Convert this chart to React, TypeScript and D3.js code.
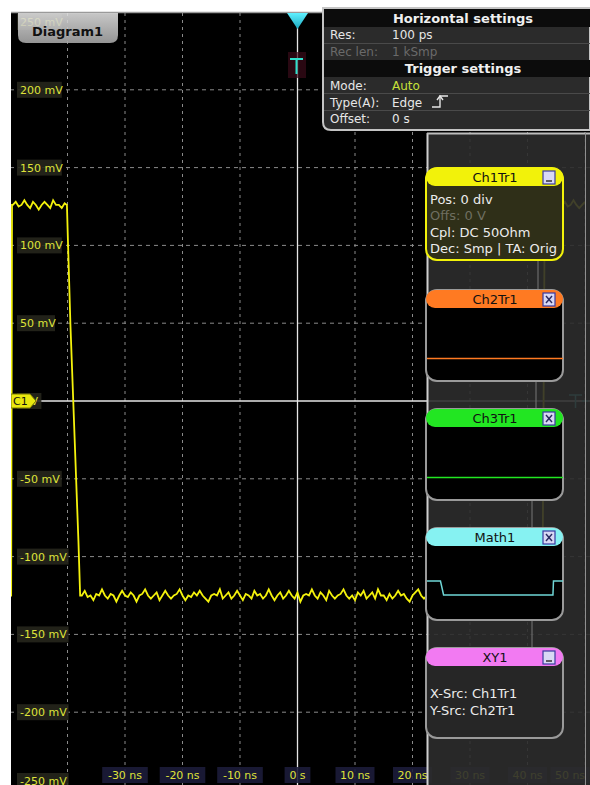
import React from "react";
import * as d3 from "d3";

const W = 590;
const H = 785;

// ---- axis ticks ----
const timeTicksNs = [-30, -20, -10, 0, 10, 20, 30, 40, 50];
const timeTickLabels = ["-30 ns", "-20 ns", "-10 ns", "0 s", "10 ns", "20 ns", "30 ns", "40 ns", "50 ns"];
const timeGridNs = [-40, -30, -20, -10, 0, 10, 20, 30, 40, 50];
const voltTicksMv = [250, 200, 150, 100, 50, 0, -50, -100, -150, -200, -250];
const voltTickLabels = ["250 mV", "200 mV", "150 mV", "100 mV", "50 mV", "0 V", "-50 mV", "-100 mV", "-150 mV", "-200 mV", "-250 mV"];

// ---- Ch1 trace (ns, mV) ----
const ch1StartPoints: [number, number][] = [[-50, -125], [-49.8, -125], [-49.65, 126]];
const ch1HighLeftStartNs = -49.5;
const ch1SampleStepNs = 0.5;
const ch1HighLeftMv = [126, 128, 125, 126, 129, 126, 124, 128, 126, 123, 126, 128, 126, 124, 129, 126, 126, 124, 127];
const ch1FallPoints: [number, number][] = [[-40.1, 126], [-39.9, 100], [-39.5, 50], [-39.0, 0], [-38.1, -90], [-37.8, -125]];
const ch1LowStartNs = -37.5;
const ch1LowMv = [
  -125, -122, -126, -125, -128, -124, -125, -121, -125, -127,
  -124, -125, -129, -125, -122, -125, -126, -123, -125, -129,
  -125, -124, -121, -125, -127, -125, -123, -128, -125, -122,
  -125, -127, -125, -124, -121, -125, -128, -125, -126, -123,
  -125, -122, -125, -127, -129, -125, -124, -125, -121, -127,
  -125, -123, -127, -125, -122, -125, -128, -124, -125, -127,
  -122, -125, -124, -127, -125, -121, -125, -128, -125, -123,
  -127, -125, -122, -125, -127, -123, -129, -125, -124, -125,
  -121, -125, -127, -123, -125, -128, -122, -125, -127, -125,
  -124, -121, -125, -127, -125, -128, -123, -125, -122, -127,
  -125, -123, -127, -121, -125, -125, -128, -124, -127, -125,
  -122, -125, -124, -127, -129, -125, -123, -121, -125, -127,
  -125, -122, -127, -125, -124, -128, -125, -127, -121, -125,
  -123, -127, -125, -122, -125, -128, -124, -125, -127, -121,
  -125, -123, -127, -125, -128, -122, -125, -124, -127, -125,
  -121, -125, -127, -123, -125, -128, -125, -122, -125, -127,
  -124,
];
const ch1RisePoints: [number, number][] = [[42.6, -125], [43.0, 126]];
const ch1HighRightStartNs = 43.5;
const ch1HighRightMv = [126, 124, 128, 126, 123, 126, 128, 125, 126, 129, 126, 124, 126, 128];

// preview levels (mV) for the sidebar thumbnails
const ch2PreviewMv = [-60];
const ch3PreviewMv = [-60];

// ---- panel texts ----
const horizRows = [
  { label: "Res:", value: "100 ps", dim: false },
  { label: "Rec len:", value: "1 kSmp", dim: true },
];
const trigRows = [
  { label: "Mode:", value: "Auto", color: "#c8e03a" },
  { label: "Type(A):", value: "Edge", color: "#e8e8e8" },
  { label: "Offset:", value: "0  s", color: "#e8e8e8" },
];
const ch1Info = [
  { t: "Pos: 0 div", dim: false },
  { t: "Offs: 0  V", dim: true },
  { t: "Cpl: DC 50Ohm", dim: false },
  { t: "Dec: Smp | TA: Orig", dim: false },
];
const xyInfo = ["X-Src: Ch1Tr1", "Y-Src: Ch2Tr1"];

const FONT = "'DejaVu Sans', Verdana, sans-serif";

function buildCh1(): [number, number][] {
  const pts: [number, number][] = [];
  ch1StartPoints.forEach((p) => pts.push(p));
  ch1HighLeftMv.forEach((v, i) => pts.push([ch1HighLeftStartNs + i * ch1SampleStepNs, v]));
  ch1FallPoints.forEach((p) => pts.push(p));
  ch1LowMv.forEach((v, i) => pts.push([ch1LowStartNs + i * ch1SampleStepNs, v]));
  ch1RisePoints.forEach((p) => pts.push(p));
  ch1HighRightMv.forEach((v, i) => pts.push([ch1HighRightStartNs + i * ch1SampleStepNs, v]));
  return pts;
}

function Icon({ x, y, kind }: { x: number; y: number; kind: "min" | "x" }) {
  return (
    <g>
      <rect x={x} y={y} width={12} height={13} fill="#d8d8f4" stroke="#3a3aa0" strokeWidth={1.2} />
      {kind === "min" ? (
        <line x1={x + 3} x2={x + 9} y1={y + 10} y2={y + 10} stroke="#333" strokeWidth={1.5} />
      ) : (
        <g stroke="#2a2a60" strokeWidth={1.4}>
          <line x1={x + 3} y1={y + 3} x2={x + 9} y2={y + 10} />
          <line x1={x + 9} y1={y + 3} x2={x + 3} y2={y + 10} />
        </g>
      )}
    </g>
  );
}

function ChBox({ y, h, color, title, icon, bodyFill, border }: any) {
  const x = 426;
  const w = 137;
  return (
    <g>
      <rect x={x} y={y} width={w} height={h} rx={11} fill={bodyFill} stroke={border} strokeWidth={2} />
      <rect x={x} y={y} width={w} height={18} rx={9} fill={color} />
      <text x={x + 69} y={y + 14} textAnchor="middle" fontFamily={FONT} fontSize={13} fill="#111">{title}</text>
      <Icon x={543} y={y + 3} kind={icon} />
    </g>
  );
}

export default function App() {
  const x = d3.scaleLinear().domain([-50, 50]).range([10, 585]);
  const y = d3.scaleLinear().domain([250, -250]).range([12, 790]);
  const data = buildCh1();
  const line = d3
    .line<[number, number]>()
    .x((d) => x(d[0]))
    .y((d) => y(d[1]));

  // Math1 thumbnail uses Ch1 shape
  const mx = d3.scaleLinear().domain([-50, 50]).range([427, 563]);
  const my = d3.scaleLinear().domain([126, -126]).range([581, 595]);
  const mline = d3
    .line<[number, number]>()
    .x((d) => mx(d[0]))
    .y((d) => my(d[1]));
  const mathData = [[-50, 126], ...ch1FallPoints.filter((_, i) => i === 0 || i === ch1FallPoints.length - 1), ...ch1RisePoints, [50, 126]] as [number, number][];

  const ch2y = d3.scaleLinear().domain([150, -150]).range([306, 381]);
  const ch3y = d3.scaleLinear().domain([150, -150]).range([425, 500]);

  const y0 = y(0);
  const x0 = x(0);

  return (
    <svg width={W} height={H} style={{ position: "absolute", left: 0, top: 0, display: "block" }}>
      <defs>
        <clipPath id="plot">
          <rect x={11} y={13} width={580} height={780} />
        </clipPath>
        <linearGradient id="tab" x1="0" y1="0" x2="0" y2="1">
          <stop offset="0" stopColor="#e2e2e2" />
          <stop offset="1" stopColor="#a9a9a9" />
        </linearGradient>
        <linearGradient id="trig" x1="0" y1="0" x2="0" y2="1">
          <stop offset="0" stopColor="#5ff0ff" />
          <stop offset="1" stopColor="#1aa8c0" />
        </linearGradient>
      </defs>
      <rect x={0} y={0} width={W} height={H} fill="#ffffff" />
      <rect x={11} y={12} width={W - 11} height={H - 12} fill="#000" />
      <line x1={11} x2={330} y1={12.5} y2={12.5} stroke="#9a9a9a" strokeWidth={1.5} />

      {/* grid */}
      <g clipPath="url(#plot)">
        {timeGridNs.map((t) => (
          <line key={"v" + t} x1={x(t)} x2={x(t)} y1={13} y2={H} stroke="#8a8a8a" strokeWidth={1} strokeDasharray="3,4" />
        ))}
        {voltTicksMv.filter((v) => v !== 250 && v !== 0).map((v) => (
          <line key={"h" + v} x1={10} x2={W} y1={y(v)} y2={y(v)} stroke="#8a8a8a" strokeWidth={1} strokeDasharray="4,4" />
        ))}
        {/* zero axes */}
        <line x1={x0} x2={x0} y1={13} y2={H} stroke="#e6e6e6" strokeWidth={1.3} />
        <line x1={11} x2={W} y1={y0} y2={y0} stroke="#e6e6e6" strokeWidth={1.3} />

        {/* y labels */}
        {voltTicksMv.map((v, i) => {
          const cy = Math.max(22, Math.min(781, y(v)));
          const lab = voltTickLabels[i];
          const w = lab.length * 6.8 + 4;
          return (
            <g key={"yl" + v}>
              <rect x={17} y={cy - 8} width={w} height={16} fill="#26261c" opacity={0.9} />
              <text x={20} y={cy + 4} fontFamily={FONT} fontSize={11} fill="#dfe23a">{lab}</text>
            </g>
          );
        })}

        {/* x labels */}
        {timeTicksNs.map((t, i) => {
          const lab = timeTickLabels[i];
          const w = lab.length * 6.6 + 6;
          const cx = Math.min(x(t), 570);
          return (
            <g key={"xl" + t}>
              <rect x={cx - w / 2} y={767} width={w} height={16} fill="#1c1c3a" opacity={0.9} />
              <text x={cx} y={779} textAnchor="middle" fontFamily={FONT} fontSize={11} fill="#dfe23a">{lab}</text>
            </g>
          );
        })}

        {/* trigger level marker right */}
        <g stroke="#3fc8c8" strokeWidth={1.5} fill="none">
          <path d="M569,395 H582 M575.5,395 V408 M582,401 H588" />
        </g>

        {/* Ch1 trace */}
        <path d={line(data) || ""} fill="none" stroke="#f4f20c" strokeWidth={1.8} />

        {/* C1 marker */}
        <path d={`M11,${y0 - 7} H30 L36,${y0} L30,${y0 + 7} H11 Z`} fill="#e9e80e" stroke="#7a7a00" strokeWidth={1} />
        <text x={13} y={y0 + 4} fontFamily={FONT} fontSize={11} fill="#111">C1</text>

        {/* trigger position marker */}
        <polygon points={`${x0 - 10.5},13 ${x0 + 10.5},13 ${x0},29`} fill="url(#trig)" />
        <rect x={288} y={52} width={18} height={26} fill="#3a0c1a" opacity={0.7} />
        <g stroke="#2fe0cc" strokeWidth={2}>
          <line x1={290} x2={303} y1={59} y2={59} />
          <line x1={296.5} x2={296.5} y1={59} y2={74} />
        </g>
      </g>

      {/* Diagram1 tab */}
      <path d="M18,13 H118 V35 Q118,43 110,43 H26 Q18,43 18,35 Z" fill="url(#tab)" opacity={0.88} />
      <text x={32} y={36} fontFamily={FONT} fontSize={13} fontWeight="bold" fill="#111">Diagram1</text>

      {/* right sidebar */}
      <rect x={427} y={133} width={W - 427} height={H - 133} fill="#2c2c2c" opacity={0.9} />
      <line x1={427.5} x2={427.5} y1={133} y2={H} stroke="#cfcfcf" strokeWidth={2} />
      <line x1={427} x2={W} y1={133.5} y2={133.5} stroke="#bdbdbd" strokeWidth={2} />
      <line x1={585.5} x2={585.5} y1={133} y2={H} stroke="#8f8f8f" strokeWidth={1} />
      <g stroke="#777" strokeWidth={1}>
        <line x1={538} x2={538} y1={260} y2={290} />
        <line x1={536} x2={536} y1={381} y2={409} />
        <line x1={532} x2={532} y1={500} y2={528} />
        <line x1={532} x2={532} y1={620} y2={648} />
      </g>

      {/* Ch1Tr1 */}
      <ChBox y={168} h={92} color="#f2f20a" title="Ch1Tr1" icon="min" bodyFill="#2f2f18" border="#f2f20a" />
      {ch1Info.map((r, i) => (
        <text key={r.t} x={430} y={204 + i * 16.3} fontFamily={FONT} fontSize={13} fill={r.dim ? "#6e6e60" : "#ececec"}>{r.t}</text>
      ))}
      {/* Ch2Tr1 */}
      <ChBox y={290} h={91} color="#ff7a22" title="Ch2Tr1" icon="x" bodyFill="#000" border="#9a9a9a" />
      {ch2PreviewMv.map((v) => (
        <line key="c2" x1={427} x2={563} y1={ch2y(v)} y2={ch2y(v)} stroke="#ff7a22" strokeWidth={1.6} />
      ))}
      {/* Ch3Tr1 */}
      <ChBox y={409} h={91} color="#22e622" title="Ch3Tr1" icon="x" bodyFill="#000" border="#9a9a9a" />
      {ch3PreviewMv.map((v) => (
        <line key="c3" x1={427} x2={563} y1={ch3y(v)} y2={ch3y(v)} stroke="#22e622" strokeWidth={1.6} />
      ))}
      {/* Math1 */}
      <ChBox y={528} h={92} color="#86f2f2" title="Math1" icon="x" bodyFill="#000" border="#9a9a9a" />
      <path d={mline(mathData) || ""} fill="none" stroke="#6fd6d6" strokeWidth={1.5} />
      {/* XY1 */}
      <ChBox y={648} h={90} color="#f27af2" title="XY1" icon="min" bodyFill="#262626" border="#9a9a9a" />
      {xyInfo.map((t, i) => (
        <text key={t} x={430} y={698 + i * 17} fontFamily={FONT} fontSize={13} fill="#ececec">{t}</text>
      ))}

      {/* Horizontal / trigger settings panel */}
      <path d="M323,8 H590 V130 H331 Q323,130 323,122 Z" fill="#2b2b2b" stroke="#c4c4c4" strokeWidth={2} />
      <rect x={324} y={9} width={266} height={18} fill="#0c0c0c" />
      <rect x={324} y={60} width={266} height={17} fill="#0c0c0c" />
      <g stroke="#4a4a4a" strokeWidth={1}>
        <line x1={324} x2={590} y1={43.5} y2={43.5} />
        <line x1={324} x2={590} y1={93.5} y2={93.5} />
        <line x1={324} x2={590} y1={110.5} y2={110.5} />
      </g>
      <text x={463} y={23} textAnchor="middle" fontFamily={FONT} fontSize={13} fontWeight="bold" fill="#f0f0f0">Horizontal settings</text>
      {horizRows.map((r, i) => (
        <g key={r.label}>
          <text x={330} y={39 + i * 17} fontFamily={FONT} fontSize={12} fill={r.dim ? "#6a6a6a" : "#e6e6e6"}>{r.label}</text>
          <text x={392} y={39 + i * 17} fontFamily={FONT} fontSize={12} fill={r.dim ? "#6a6a6a" : "#e6e6e6"}>{r.value}</text>
        </g>
      ))}
      <text x={463} y={73} textAnchor="middle" fontFamily={FONT} fontSize={13} fontWeight="bold" fill="#f0f0f0">Trigger settings</text>
      {trigRows.map((r, i) => (
        <g key={r.label}>
          <text x={330} y={90 + i * 16.5} fontFamily={FONT} fontSize={12} fill="#e6e6e6">{r.label}</text>
          <text x={392} y={90 + i * 16.5} fontFamily={FONT} fontSize={12} fill={r.color}>{r.value}</text>
        </g>
      ))}
      {/* edge symbol */}
      <g stroke="#e6e6e6" strokeWidth={1.4} fill="none">
        <path d="M432,107 H440 V96 H448" />
        <path d="M437,100 L440,96 L443,100" />
      </g>
    </svg>
  );
}
